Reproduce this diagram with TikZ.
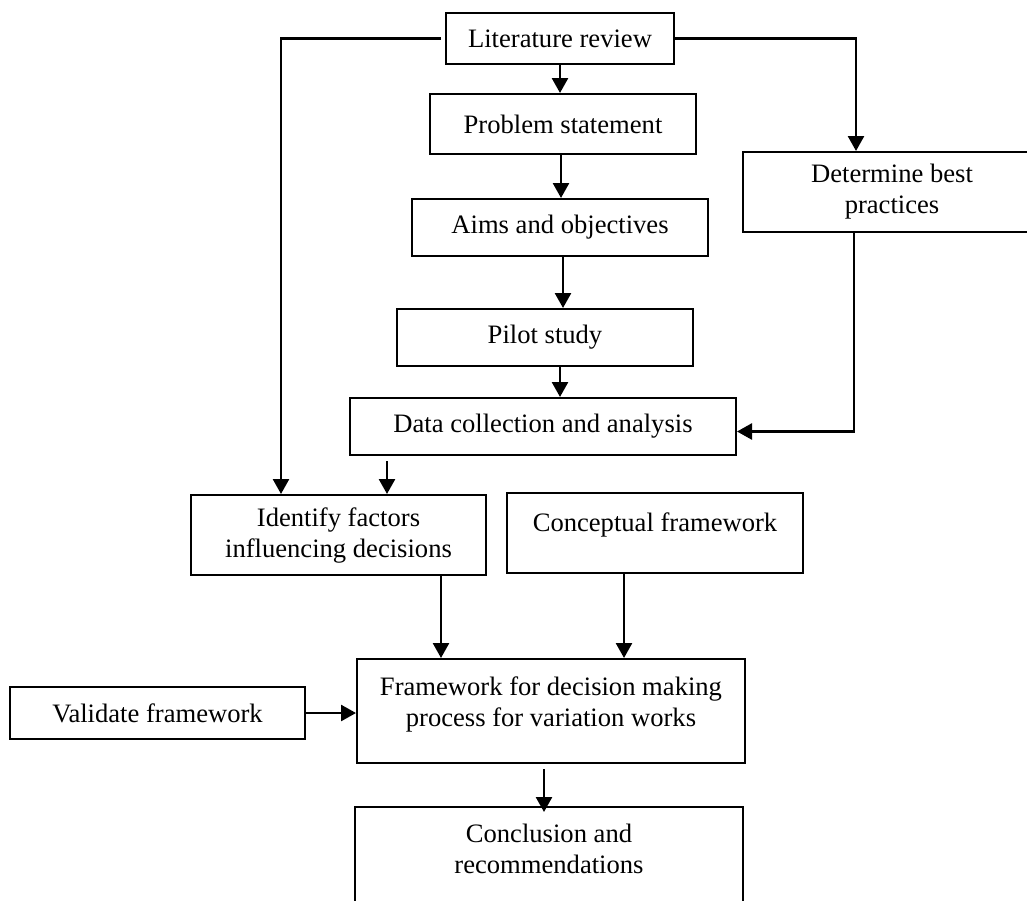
\documentclass[tikz,border=0pt]{standalone}
\usepackage{fontspec}
\setmainfont{Liberation Serif}
\usetikzlibrary{arrows.meta}

\tikzset{
  box/.style={draw, line width=1pt, align=center, inner sep=0pt},
  arr/.style={-{Triangle[length=7.5pt,width=8pt]}, line width=1.3pt},
}

\begin{document}
\begin{tikzpicture}[x=0.5pt, y=-0.5pt, font=\fontsize{13.3}{15.5}\selectfont]
  \useasboundingbox (0,0) rectangle (1027,900);
  \clip (0,0) rectangle (1027,900);
  % boxes
  \node[box, minimum width=114pt, minimum height=25.5pt] (lit) at (560,38.5) {Literature review};
  \node[box, minimum width=133pt, minimum height=30pt] (prob) at (563,124) {Problem statement};
  \node[box, minimum width=148pt, minimum height=28.5pt] (aims) at (560,227.5) {Aims and objectives};
  \node[box, minimum width=148pt, minimum height=28.5pt] (pilot) at (545,337.5) {Pilot study};
  \node[box, minimum width=193pt, minimum height=28.5pt] (data) at (543,426.5) {Data collection and analysis};
  \node[box, minimum width=149pt, minimum height=40pt] (best) at (892,192) {Determine best\\practices};
  \node[box, minimum width=147.5pt, minimum height=40pt] (ident) at (338.5,535) {Identify factors\\influencing decisions};
  \node[box, minimum width=148pt, minimum height=40pt,
        label={[below=7pt]north:Conceptual framework}] (concept) at (655,533) {};
  \node[box, minimum width=194pt, minimum height=52pt,
        label={[below=6pt, align=center]north:Framework for decision making\\process for variation works}] (frame) at (551,711) {};
  \node[box, minimum width=147.5pt, minimum height=26pt] (valid) at (157.5,713) {Validate framework};
  \node[box, minimum width=194pt, minimum height=55pt,
        label={[below=5.5pt, align=center]north:Conclusion and\\recommendations}] (concl) at (549,862) {};
  % main column
  \draw[arr] (lit.south) -- (lit.south |- prob.north);
  \draw[arr] (prob.south -| 561,0) -- (aims.north -| 561,0);
  \draw[arr] (aims.south -| 563,0) -- (pilot.north -| 563,0);
  \draw[arr] (pilot.south -| 560,0) -- (data.north -| 560,0);
  \draw[arr] ([yshift=-2.5pt]data.south -| 387,0) -- (ident.north -| 387,0);
  \draw[arr] (ident.south -| 441,0) -- (frame.north -| 441,0);
  \draw[arr] (concept.south -| 624,0) -- (frame.north -| 624,0);
  \draw[arr] ([yshift=-2.5pt]frame.south -| 544,0) -- ([yshift=-3pt]concl.north -| 544,0);
  \draw[arr] (valid.east) -- (valid.east -| frame.west);
  % side branches
  \draw[arr] ([xshift=-2pt]lit.west) -| (ident.north -| 281,0);
  \draw[arr] (lit.east) -| (best.north -| 856,0);
  \draw[arr] (best.south -| 854,0) |- ([yshift=-2.5pt]data.east);
\end{tikzpicture}
\end{document}
